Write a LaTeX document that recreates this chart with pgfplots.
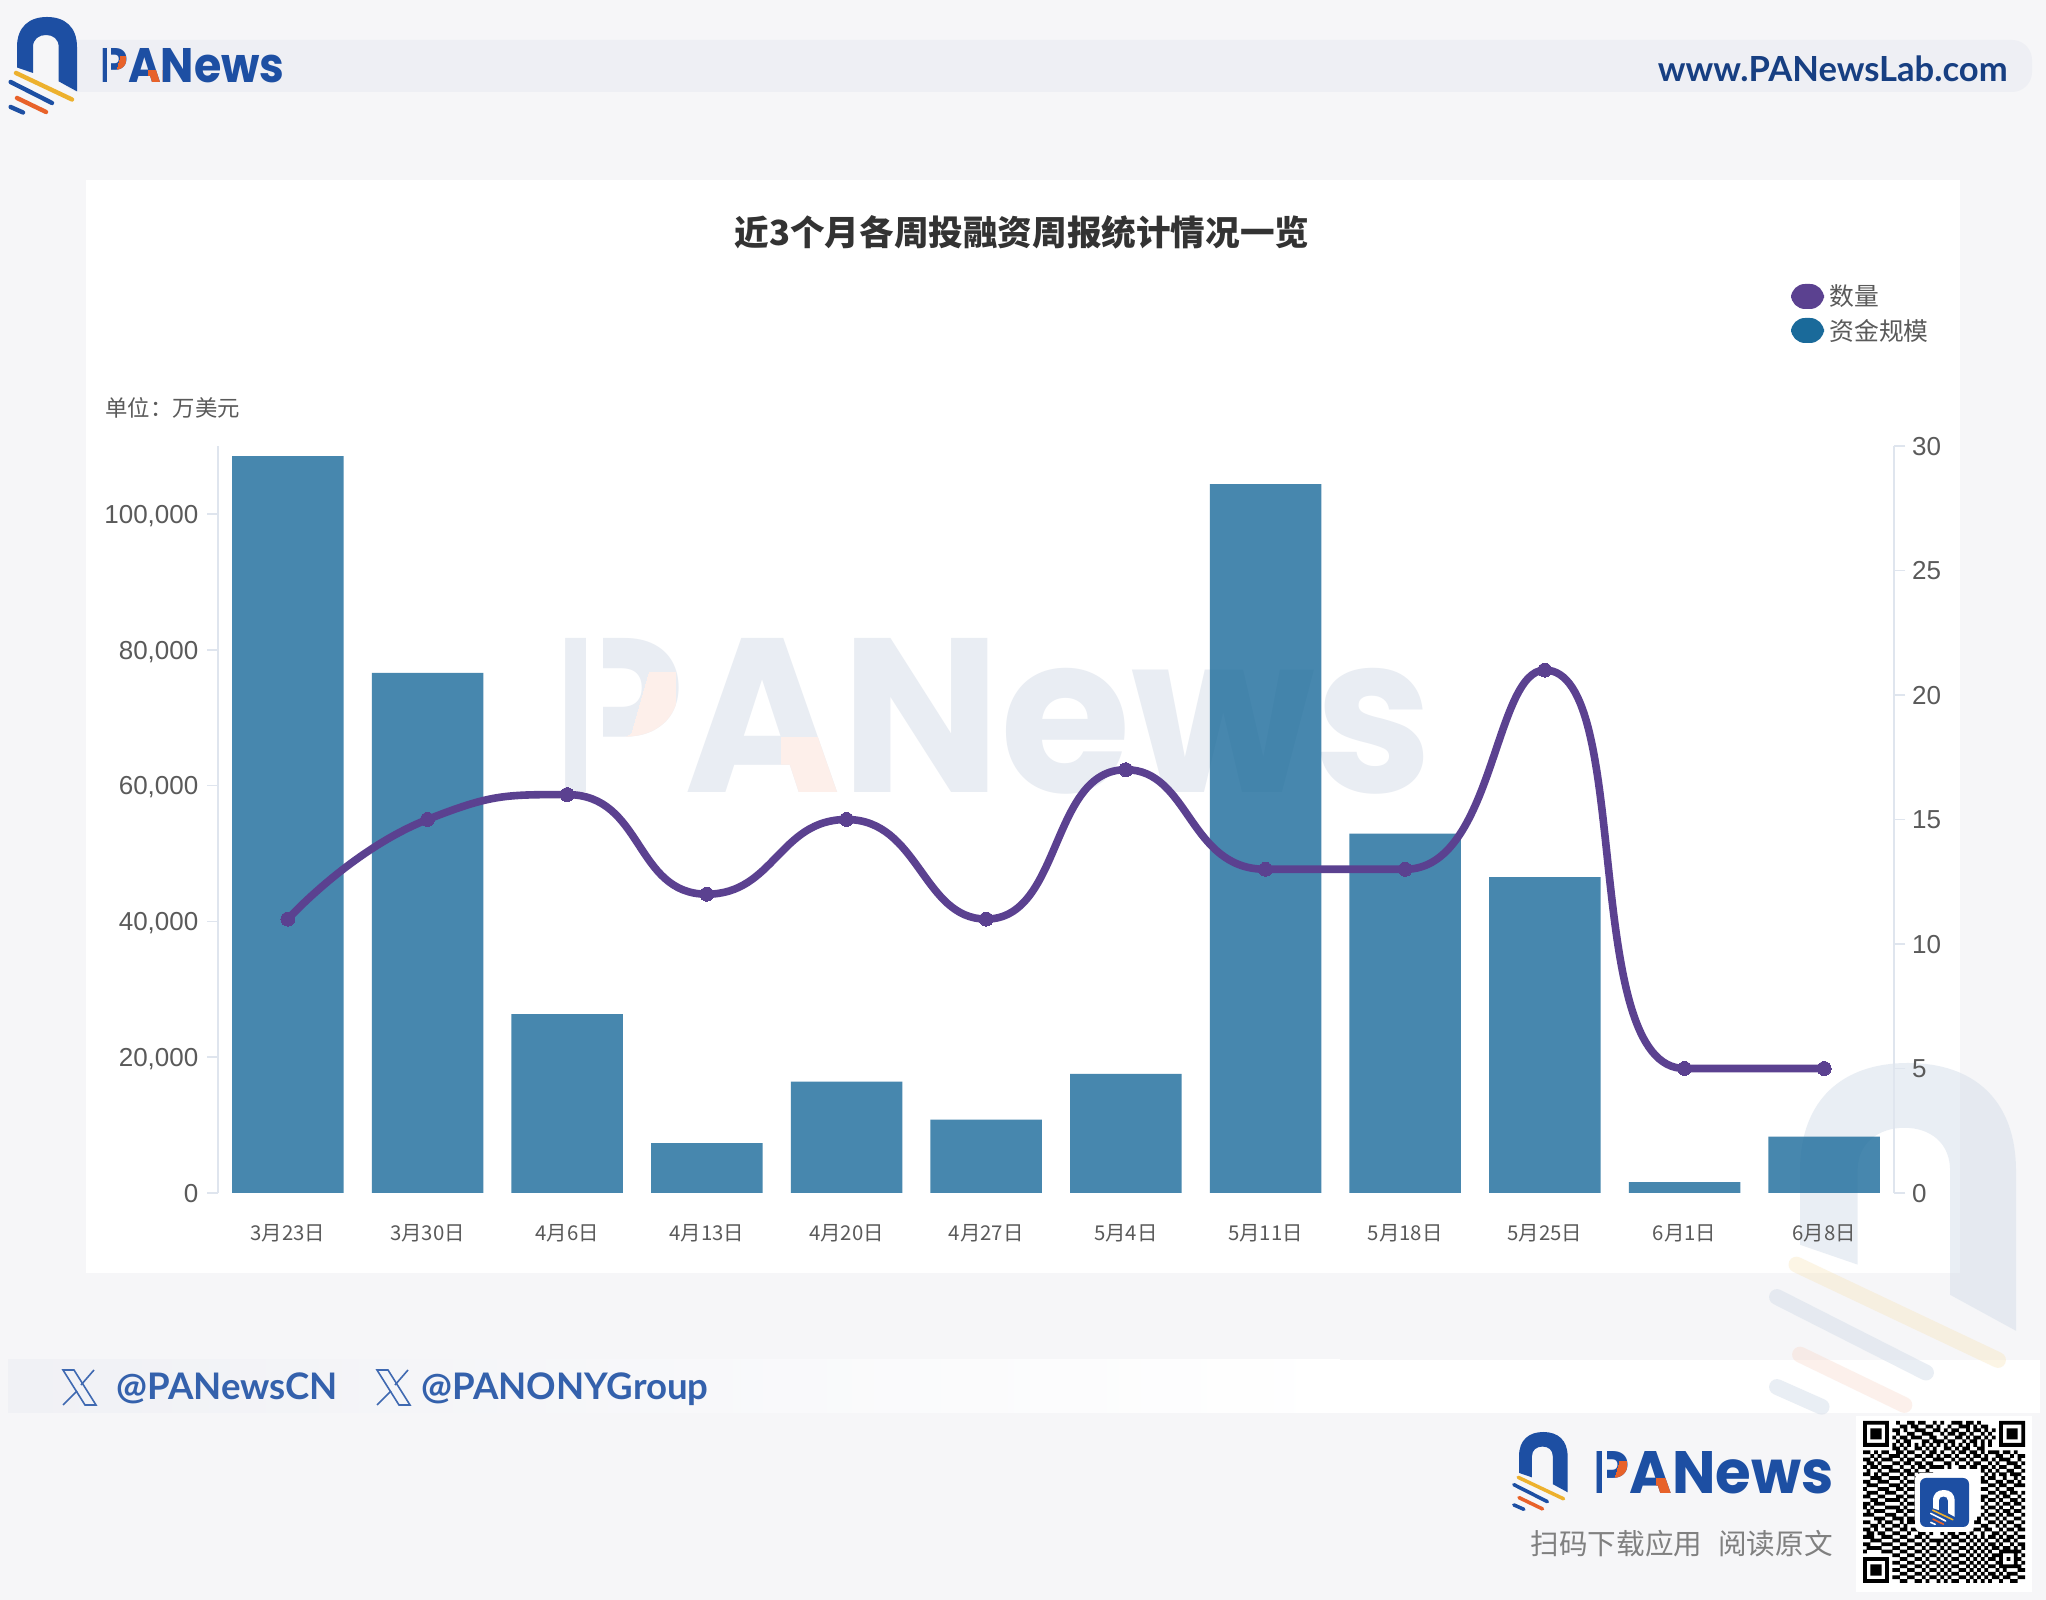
\documentclass[border=0pt]{standalone}
\usepackage{fontspec}
\usepackage{graphicx}
\usepackage{pgfplots}
\pgfplotsset{compat=1.18}
\setmainfont{Liberation Sans}
\newfontfamily\cjk{Noto Sans CJK SC}
\newfontfamily\logofont{Poppins}
\newfontfamily\latofont{Lato}
\definecolor{pagebg}{HTML}{F6F6F8}
\definecolor{bandc}{HTML}{EEEFF4}
\definecolor{axc}{HTML}{DFE5EE}
\definecolor{wmc}{HTML}{D5DEEA}
\definecolor{barc}{HTML}{1A6A9A}
\definecolor{linec}{HTML}{5B4190}
\definecolor{logob}{HTML}{1D4FA3}
\definecolor{logoy}{HTML}{EDB12E}
\definecolor{logoo}{HTML}{E8622A}
\definecolor{txt}{HTML}{5A5A5A}

% ---- the smoothing used by the original chart: curve through the plotted points
\makeatletter
\def\ecclamp#1#2#3{max(min(#1,max(#2,#3)),min(#2,#3))}
\def\ecemit#1#2#3#4#5#6{%
  \pgfpathcurveto{\pgfqpoint{#1pt}{#2pt}}{\pgfqpoint{#3pt}{#4pt}}{\pgfqpoint{#5pt}{#6pt}}}
\def\ecpoint#1{%
  \pgf@process{#1}%
  \edef\ecxn{\strip@pt\pgf@x}\edef\ecyn{\strip@pt\pgf@y}%
  \ifnum\ecn=0
    \pgfpathmoveto{\pgfqpoint{\ecxn pt}{\ecyn pt}}%
    \xdef\ecxa{\ecxn}\xdef\ecya{\ecyn}\xdef\ecca{\ecxn}\xdef\eccb{\ecyn}\gdef\ecn{1}%
  \else\ifnum\ecn=1
    \xdef\ecxb{\ecxn}\xdef\ecyb{\ecyn}\gdef\ecn{2}%
  \else
    \pgfmathsetmacro\ecL{veclen(\ecxb-\ecxa,\ecyb-\ecya)}%
    \pgfmathsetmacro\ecM{veclen(\ecxn-\ecxb,\ecyn-\ecyb)}%
    \pgfmathsetmacro\ecr{\ecM/(\ecL+\ecM)}%
    \pgfmathsetmacro\ncx{\ecxb+(\ecxn-\ecxa)*0.5*\ecr}%
    \pgfmathsetmacro\ncy{\ecyb+(\ecyn-\ecya)*0.5*\ecr}%
    \pgfmathsetmacro\ncx{\ecclamp{\ncx}{\ecxn}{\ecxb}}%
    \pgfmathsetmacro\ncy{\ecclamp{\ncy}{\ecyn}{\ecyb}}%
    \pgfmathsetmacro\cpx{\ecxb-(\ncx-\ecxb)*\ecL/\ecM}%
    \pgfmathsetmacro\cpy{\ecyb-(\ncy-\ecyb)*\ecL/\ecM}%
    \pgfmathsetmacro\cpx{\ecclamp{\cpx}{\ecxa}{\ecxb}}%
    \pgfmathsetmacro\cpy{\ecclamp{\cpy}{\ecya}{\ecyb}}%
    \pgfmathsetmacro\ncx{\ecxb+(\ecxb-\cpx)*\ecM/\ecL}%
    \pgfmathsetmacro\ncy{\ecyb+(\ecyb-\cpy)*\ecM/\ecL}%
    \ecemit{\ecca}{\eccb}{\cpx}{\cpy}{\ecxb}{\ecyb}%
    \xdef\ecca{\ncx}\xdef\eccb{\ncy}%
    \xdef\ecxa{\ecxb}\xdef\ecya{\ecyb}\xdef\ecxb{\ecxn}\xdef\ecyb{\ecyn}%
  \fi\fi}
\pgfdeclareplothandler{\echartshandler}{}{%
  start={\gdef\ecn{0}},
  point macro=\ecpoint,
  end={\ifnum\ecn=2 \ecemit{\ecca}{\eccb}{\ecxb}{\ecyb}{\ecxb}{\ecyb}\fi}%
}
\tikzset{echarts smooth/.code={\let\tikz@plot@handler=\echartshandler}}

% ---- decorative QR pattern
\newcount\qrx \newcount\qry
\newdimen\qrA \newdimen\qrB
\def\qrparse#1{\ifx#1\relax\else
  \if#11%
    \qrA=\qrx pt \qrA=1.84\qrA \advance\qrA by 931.5pt
    \qrB=\qry pt \qrB=-1.84\qrB \advance\qrB by 87.66pt
    \pgfpathrectangle{\pgfqpoint{\qrA}{\qrB}}{\pgfqpoint{1.88pt}{1.88pt}}%
  \fi
  \advance\qrx by 1 \expandafter\qrparse\fi}
\def\qrrow#1{\qrx=0 \qrparse#1\relax \advance\qry by 1 }
\makeatother

% ---- logo, in a local frame where the arch is 60 units wide
\newcommand\pnlogo[7]{%
  \begin{scope}[shift={(#1,#2)},scale=#3]
    \fill[#4] (0,50.5) -- (0,30) .. controls (0,10) and (12,0) .. (30,0)
      .. controls (48,0) and (60,10) .. (60,30) -- (60,74.4) -- (41.7,64.4) -- (41.7,30)
      .. controls (41.7,22) and (36,18) .. (29,18) .. controls (22,18) and (16,22) .. (16,30)
      -- (16,56) -- cycle;
    \draw[#5,line cap=round,line width={2.2pt*#3}] (-1,56) -- (55,82.5);
    \draw[#6,line cap=round,line width={2.2pt*#3}] (-6.4,65) -- (35,86);
    \draw[#7,line cap=round,line width={2.2pt*#3}] (0,81) -- (29,95);
    \draw[#6,line cap=round,line width={2.2pt*#3}] (-6.4,90) -- (6,95.5);
  \end{scope}}
% word mark: x, baseline y (picture px), width and height (pt), colour, accent colour, gap colour
\newcommand\pnword[7]{%
  \pgfmathsetmacro\wu{2*#3/100}\pgfmathsetmacro\hu{2*#4/100}%
  \node[anchor=south west,inner sep=0pt,text=#5] at (#1,#2)
     {\resizebox{#3pt}{#4pt}{\logofont\bfseries PANews}};
  \begin{scope}
    \clip[shift={(#1,#2-2*#4)},xscale=\wu,yscale=\hu]
       (4,75) -- (9,60) -- (11,20) -- (14,20) -- (14,82) -- (4,82) -- cycle
       (26,62) -- (34,62) -- (34,102) -- (26,102) -- cycle;
    \node[anchor=south west,inner sep=0pt,text=#6] at (#1,#2)
       {\resizebox{#3pt}{#4pt}{\logofont\bfseries PANews}};
  \end{scope}
  \fill[#7,shift={(#1,#2-2*#4)},xscale=\wu,yscale=\hu] (3.9,-3) rectangle (5.8,103);
}
\newcommand\xicon[2]{%
  \begin{scope}[shift={(#1,#2)},logob!85!white,line width=0.8pt]
    \draw (1,0) -- (12,0) -- (34,35) -- (23,35) -- cycle;
    \draw (32,0) -- (19,15) (15,21) -- (1,35);
  \end{scope}}

\begin{document}
\begin{tikzpicture}
\path[use as bounding box] (0,0) rectangle (1023pt,800pt);
\fill[pagebg] (0,0) rectangle (1023pt,800pt);
\begin{scope}[x=0.5pt,y=-0.5pt,shift={(0,800pt)}]
  % bands
  \fill[bandc,rounded corners=10pt] (60,40) rectangle (2032,92);
  \shade[left color=bandc!75!pagebg,right color=white] (8,1360) rectangle (1340,1413);
  \fill[white] (1340,1360) rectangle (2040,1413);
  % card
  \fill[white] (86,180) rectangle (1960,1273);
  % watermarks
  \pnword{552}{795}{440}{77}{axc!70!white}{logoo!10!white}{white}
  \pnlogo{1800}{1063}{3.6}{wmc,opacity=.5}{logoy!40!white,opacity=.3}{wmc,opacity=.5}{logoo!30!white,opacity=.3}
  % top logo
  \pnlogo{17}{17}{1}{logob}{logoy}{logob}{logoo}
  \pnword{100}{83}{92}{17}{logob}{logoo}{bandc}
  \node[anchor=base east,inner sep=0pt,text=logob!80!black] at (2008,82)
     {\fontsize{17.3}{20}\latofont\bfseries www.PANewsLab.com};
  % bottom handles
  \xicon{62}{1370}
  \node[anchor=base west,inner sep=0pt,text=logob!90!white] at (116,1400)
     {\fontsize{18.3}{22}\latofont\bfseries @PANewsCN};
  \xicon{376}{1370}
  \node[anchor=base west,inner sep=0pt,text=logob!90!white] at (421,1400)
     {\fontsize{18.3}{22}\latofont\bfseries @PANONYGroup};
  % bottom logo
  \pnlogo{1519}{1432}{0.81}{logob}{logoy}{logob}{logoo}
  \pnword{1593}{1494}{120}{21}{logob}{logoo}{pagebg}
  \node[anchor=east,inner sep=0pt,text=black!50] at (1833,1544)
     {\fontsize{14.3}{16}\cjk 扫码下载应用\hspace{8pt}阅读原文};
  % QR background
  \fill[white] (1856,1416) rectangle (2032,1592);
  % texts of the chart
  \node[text=black!80,inner sep=0pt] at (1022,232)
     {\fontsize{17.3}{20}\cjk\bfseries 近3个月各周投融资周报统计情况一览};
  \node[anchor=west,text=txt,inner sep=0pt] at (105,408)
     {\fontsize{11.2}{13}\cjk 单位：万美元};
  \fill[linec,rounded corners=7pt] (1791,284) rectangle (1824,309);
  \fill[barc,rounded corners=7pt] (1791,318) rectangle (1824,343);
  \node[anchor=west,text=txt,inner sep=0pt] at (1829,296)
     {\fontsize{12.4}{15}\cjk 数量};
  \node[anchor=west,text=txt,inner sep=0pt] at (1829,331)
     {\fontsize{12.4}{15}\cjk 资金规模};
\end{scope}
% QR modules
\begin{scope}
\qry=0
\qrrow{11111110010011011001010011101101000001111111}
\qrrow{10000010001101100110100100111010110001000001}
\qrrow{10111010110100111001101011001011010101011101}
\qrrow{10111010010011001110010110110100101001011101}
\qrrow{10111010101101110011001001101011010101011101}
\qrrow{10000010010110001101110110010110101001000001}
\qrrow{11111110101010101010101010101010101001111111}
\qrrow{00000000110100110101001101011001100000000000}
\qrrow{11010110011011001011010010110110101110110100}
\qrrow{00101001110100110110101101001011010011001011}
\qrrow{11010111001011001001110010110100110101110010}
\qrrow{01101000110110110110001101001011001010011101}
\qrrow{10110111001001011011110100110110110101100110}
\qrrow{01001001110110100100000000000000101010011001}
\qrrow{11010110001011011010000000000000010101101110}
\qrrow{00111001110100100101000000000000101100100101}
\qrrow{11001110001011011010000000000000110011011010}
\qrrow{01110001110100110101000000000000001101100111}
\qrrow{10001110011011001010000000000000110010011000}
\qrrow{01110011100100110111000000000000001101101101}
\qrrow{11001100011011001000000000000000110010110010}
\qrrow{00110011110100110111000000000000101101001101}
\qrrow{11011100001011001000000000000000010010110110}
\qrrow{10100011110100110110000000000000101101001001}
\qrrow{01011100011011001011000000000000010010110110}
\qrrow{11100011100100110100000000000000101101011001}
\qrrow{00011100111011001011110100110101010010100110}
\qrrow{11001011001011100100101101001011001101011001}
\qrrow{00110100110100011011010010110100110010100110}
\qrrow{11010011001101100101101001001011011001011011}
\qrrow{01101100110010011010010110110100100110100100}
\qrrow{11100111001100110100001011001010101101011011}
\qrrow{00111000110011001011110100110101010010110100}
\qrrow{11000111001100110100101011001010101101001011}
\qrrow{01111000110011001011010100110101010110110101}
\qrrow{10000111001100110100101011001010101001111110}
\qrrow{00000000110011001011010100110101010111000101}
\qrrow{11111110001100110100101011001010101101010110}
\qrrow{10000010110011001011010100110101010011000101}
\qrrow{10111010001100110100101011001010101101111110}
\qrrow{10111010110011001011010100110101010010100011}
\qrrow{10111010001100110100101011001010101101011100}
\qrrow{10000010110011001011010100110101010110110011}
\qrrow{11111110001100110100101011001010101001001100}
\pgfsetfillcolor{black}
\pgfusepath{fill}
\end{scope}
\begin{scope}[x=0.5pt,y=-0.5pt,shift={(0,800pt)}]
  \fill[white,rounded corners=3pt] (1915,1473) rectangle (1974,1532);
  \fill[logob,rounded corners=3pt] (1920,1478) rectangle (1969,1527);
  \pnlogo{1933}{1490}{0.36}{white}{logoy}{white}{logoo}
\end{scope}

% bars
\begin{axis}[
  at={(109pt,203.5pt)},anchor=south west,
  scale only axis,width=838pt,height=373.5pt,
  xmin=-0.5,xmax=11.5,ymin=0,ymax=110000,
  clip=false,
  axis y line*=left,axis x line*=bottom,
  x axis line style={draw=none,-},
  y axis line style={axc,line width=0.8pt,-},
  xtick={0,...,11},
  xticklabels={3月23日,3月30日,4月6日,4月13日,4月20日,4月27日,5月4日,5月11日,5月18日,5月25日,6月1日,6月8日},
  xtick style={draw=none},
  xticklabel style={font=\fontsize{10.2}{13}\cjk,text=txt,anchor=center,yshift=-14.5pt},
  ytick={0,20000,40000,60000,80000,100000},
  ytick style={axc,line width=0.8pt},
  tick align=outside,major tick length=5.5pt,
  scaled y ticks=false,
  /pgf/number format/fixed,
  /pgf/number format/assume math mode=true,
  /pgf/number format/1000 sep={,},
  yticklabel style={font=\fontsize{13}{15}\selectfont,text=txt,xshift=-0.8pt,text height=9.3pt,text depth=0pt},
]
\addplot[ybar,bar width=55.75pt,fill=barc,fill opacity=.8,draw=none] coordinates {
 (0,108500) (1,76600) (2,26350) (3,7350) (4,16400) (5,10800) (6,17550) (7,104400)
 (8,52900) (9,46500) (10,1600) (11,8300)};
\end{axis}
% count on the right axis
\begin{axis}[
  at={(109pt,203.5pt)},anchor=south west,
  scale only axis,width=838pt,height=373.5pt,
  xmin=-0.5,xmax=11.5,ymin=0,ymax=30,
  clip=false,
  axis y line*=right,axis x line=none,
  y axis line style={axc,line width=0.8pt,-},
  ytick={0,5,...,30},
  ytick style={axc,line width=0.8pt},
  tick align=outside,major tick length=5.5pt,
  /pgf/number format/fixed,
  /pgf/number format/assume math mode=true,
  yticklabel style={font=\fontsize{13}{15}\selectfont,text=txt,text height=9.3pt,text depth=0pt},
]
\addplot[echarts smooth,linec,line width=3.8pt,mark=*,mark size=3.5pt,mark options={fill=linec,draw=linec,line width=0pt}] coordinates {
 (0,11) (1,15) (2,16) (3,12) (4,15) (5,11) (6,17) (7,13) (8,13) (9,21) (10,5) (11,5)};
\end{axis}
\end{tikzpicture}
\end{document}
